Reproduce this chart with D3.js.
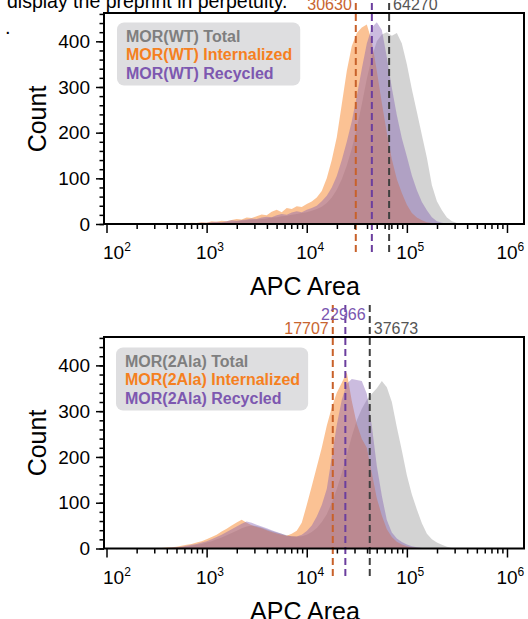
<!DOCTYPE html>
<meta charset="utf-8">
<style>
body { margin: 0; background: white; }
svg { display: block; font-family: Arial, "Liberation Sans", sans-serif; }
</style>
<svg width="528" height="619">
     <rect width="100%" height="100%" fill="white"/>
</svg>
<script src="https://d3js.org/d3.v7.min.js"></script>
<script>

// log10 of each histogram bin centre (APC Area)
var logBins = [2.30,2.35,2.40,2.45,2.50,2.55,2.60,2.65,2.70,2.75,2.80,2.85,2.90,2.95,
               3.00,3.05,3.10,3.15,3.20,3.25,3.30,3.35,3.40,3.45,3.50,3.55,3.60,3.65,3.70,3.75,3.80,3.85,3.90,3.95,
               4.00,4.05,4.10,4.15,4.20,4.25,4.30,4.35,4.40,4.45,4.50,4.55,4.60,4.65,4.70,4.75,4.80,4.85,4.90,4.95,
               5.00,5.05,5.10,5.15,5.20,5.25,5.30,5.35,5.40,5.45,5.50,5.55,5.60];

// MOR(WT) counts
var wtTotal = [0,0,0,0,0,0,0,0,1,0,1,1,1,2,
               2,3,3,4,5,5,6,7,8,9,10,11,12,14,15,17,18,20,22,24,
               26,29,33,38,46,58,75,98,128,165,210,262,318,365,400,415,420,412,418,395,
               350,295,245,195,145,85,50,30,14,6,2,1,0];
var wtInternalized = [0,0,0,1,0,0,1,1,0,2,1,3,2,4,
               3,6,5,7,6,9,11,10,14,13,17,21,19,27,31,26,35,33,39,37,
               44,49,58,72,100,140,190,262,335,390,418,430,437,400,335,265,200,142,98,68,
               42,24,14,8,4,2,1,0,0,0,0,0,0];
var wtRecycled = [0,0,0,0,0,1,0,1,1,0,2,1,2,3,
               3,4,5,4,6,8,7,9,10,12,11,14,16,15,19,22,20,25,28,26,
               31,35,40,50,62,80,105,140,180,225,280,340,395,430,442,425,365,298,238,188,
               148,106,74,48,30,15,6,3,1,0,0,0,0];

// MOR(2Ala) counts
var alaTotal = [0,0,0,0,0,0,1,1,2,3,4,6,8,10,
               13,16,20,24,29,34,39,44,48,50,49,46,42,38,35,32,29,27,26,27,
               30,36,45,58,75,100,130,165,205,245,280,305,325,338,350,366,352,320,265,214,
               160,118,85,55,32,20,13,8,4,1,0,0,0];
var alaInternalized = [0,0,0,0,1,1,2,3,4,6,8,10,13,16,
               20,25,30,37,43,50,57,63,56,51,47,44,40,36,33,30,28,32,39,56,
               95,136,178,220,268,308,340,362,385,322,272,240,220,165,110,72,42,25,15,9,
               5,2,1,0,0,0,0,0,0,0,0,0,0];
var alaRecycled = [0,0,0,0,0,1,1,2,3,4,6,8,10,13,
               16,20,25,30,36,42,48,54,59,56,52,48,44,40,36,32,28,27,26,30,
               38,50,70,95,130,200,270,325,360,370,368,366,338,268,180,115,62,35,22,14,
               9,5,3,1,0,0,0,0,0,0,0,0,0];

var seriesNames = ["Total", "Internalized", "Recycled"];

// dashed marker positions (APC Area) and the numbers printed beside them
var wtMarks = [66500, 30900, 44700];
var wtMarkLabels = ["64270", "30630", "44570"];
var alaMarks = [42600, 18200, 24300];
var alaMarkLabels = ["37673", "17707", "22966"];

var yTicks = [0, 100, 200, 300, 400];
var xDecades = [2, 3, 4, 5, 6];

var fillColor = { Total: "#808080", Internalized: "#f7801f", Recycled: "#7c58b0" };
var fillAlpha = { Total: 0.35, Internalized: 0.48, Recycled: 0.4 };
var textColor = { Total: "#7f7f7f", Internalized: "#f5801f", Recycled: "#7d58b0" };
var lineColor = { Total: "#3f3f3f", Internalized: "#c8612a", Recycled: "#6b3e9e" };
var labelColor = { Total: "#555555", Internalized: "#c8652f", Recycled: "#7a56b0" };

var svg = d3.select("svg");

// text from the page above, cut off by the crop
svg.append("text")
    .attr("x", 7).attr("y", 8)
    .attr("font-size", "19.5px")
    .text("display the preprint in perpetuity.");
svg.append("text")
    .attr("x", 5).attr("y", 34)
    .attr("font-size", "20px")
    .text(".");

var x = d3.scaleLog()
    .domain([Math.pow(10, 1.975), Math.pow(10, 6.17)])
    .range([104, 524]);

var panels = [
    { key: "wt", strain: "MOR(WT)", top: 13, zero: 224,
      series: [wtTotal, wtInternalized, wtRecycled], marks: wtMarks, markLabels: wtMarkLabels,
      legendX: 126, legendY: 41.5 },
    { key: "ala", strain: "MOR(2Ala)", top: 337, zero: 548.5,
      series: [alaTotal, alaInternalized, alaRecycled], marks: alaMarks, markLabels: alaMarkLabels,
      legendX: 125, legendY: 366.5 }
];

panels.forEach(drawPanel);

function drawPanel(p) {
    var y = d3.scaleLinear().domain([0, 462]).range([p.zero, p.top]);
    var g = svg.append("g");

    g.append("clipPath").attr("id", "clip-" + p.key)
      .append("rect")
        .attr("x", 104).attr("y", p.top)
        .attr("width", 420).attr("height", p.zero - p.top);

    var area = d3.area()
        .x(function(d, i) { return x(Math.pow(10, logBins[i])); })
        .y0(y(0))
        .y1(function(d) { return y(d); });

    var data = p.series.map(function(v, i) { return { name: seriesNames[i], values: v }; });

    g.append("g")
        .attr("class", "fills")
        .attr("clip-path", "url(#clip-" + p.key + ")")
      .selectAll("path")
      .data(data)
      .enter().append("path")
        .attr("d", function(d) { return area(d.values); })
        .attr("fill", function(d) { return fillColor[d.name]; })
        .attr("fill-opacity", function(d) { return fillAlpha[d.name]; });

    // legend
    var leg = g.append("g");
    var box = leg.append("rect")
        .attr("fill", "#dedee0")
        .attr("rx", 7).attr("ry", 7);
    var lt = leg.selectAll("text")
      .data(seriesNames)
      .enter().append("text")
        .attr("x", p.legendX)
        .attr("y", function(d, i) { return p.legendY + i * 18.5; })
        .attr("font-size", "16px")
        .attr("font-weight", "bold")
        .attr("fill", function(d) { return textColor[d]; })
        .text(function(d) { return p.strain + " " + d; });
    var maxW = d3.max(lt.nodes(), function(n) { return n.getComputedTextLength(); });
    box.attr("x", p.legendX - 9).attr("y", p.legendY - 19)
       .attr("width", maxW + 17).attr("height", 63);

    // dashed markers
    var marks = g.append("g");
    seriesNames.forEach(function(name, i) {
        var mx = x(p.marks[i]);
        marks.append("line")
            .attr("x1", mx).attr("x2", mx)
            .attr("y1", p.top - 32).attr("y2", p.zero + 29)
            .attr("stroke", lineColor[name])
            .attr("stroke-width", 2)
            .attr("stroke-dasharray", "7,4");
        var t = marks.append("text")
            .attr("font-size", "16px")
            .attr("fill", labelColor[name])
            .text(p.markLabels[i]);
        if (name == "Total") t.attr("x", mx + 4).attr("y", p.top - 3);
        else if (name == "Internalized") t.attr("x", mx - 4).attr("y", p.top - 3).attr("text-anchor", "end");
        else t.attr("x", mx - 2).attr("y", p.top - 17).attr("text-anchor", "middle");
    });

    // y axis
    var yMajor = d3.axisLeft(y).tickValues(yTicks).tickSize(8).tickPadding(6);
    var yMinor = d3.axisLeft(y).tickValues(d3.range(0, 461, 20)).tickSize(4.5).tickFormat("");
    var ya = g.append("g").attr("transform", "translate(104,0)").call(yMajor);
    g.append("g").attr("transform", "translate(104,0)").call(yMinor);

    // x axis
    var minors = [];
    xDecades.forEach(function(e) {
        for (var k = 2; k <= 9; k++) if (e < 6) minors.push(k * Math.pow(10, e));
    });
    var majors = xDecades.map(function(e) { return Math.pow(10, e); });
    var xMajor = d3.axisBottom(x).tickValues(majors).tickSize(9).tickFormat("");
    var xMinor = d3.axisBottom(x).tickValues(minors).tickSize(5).tickFormat("");
    g.append("g").attr("transform", "translate(0," + p.zero + ")").call(xMajor);
    g.append("g").attr("transform", "translate(0," + p.zero + ")").call(xMinor);

    g.selectAll(".domain").remove();
    g.selectAll(".tick line").attr("stroke", "#000").attr("stroke-width", 1.5);
    ya.selectAll("text").attr("font-size", "19px").attr("font-family", "Arial, 'Liberation Sans', sans-serif").attr("fill", "#000");

    var xl = g.append("g").selectAll("text")
      .data(xDecades)
      .enter().append("text")
        .attr("x", function(d, i) { return x(Math.pow(10, d)) - 10.5 + (i == 0 ? 7 : 0); })
        .attr("y", p.zero + 35)
        .attr("font-size", "19px");
    xl.append("tspan").text("10");
    xl.append("tspan").attr("dy", -8).attr("font-size", "12px").text(function(d) { return d; });

    // frame
    g.append("rect")
        .attr("x", 104).attr("y", p.top)
        .attr("width", 420).attr("height", p.zero - p.top)
        .attr("fill", "none").attr("stroke", "#000").attr("stroke-width", 2);

    // axis titles
    g.append("text")
        .attr("transform", "translate(46," + (p.top + 106) + ") rotate(-90)")
        .attr("text-anchor", "middle")
        .attr("font-size", "25px")
        .text("Count");
    g.append("text")
        .attr("x", 305).attr("y", p.zero + 71)
        .attr("text-anchor", "middle")
        .attr("font-size", "25px")
        .text("APC Area");
}

</script>
